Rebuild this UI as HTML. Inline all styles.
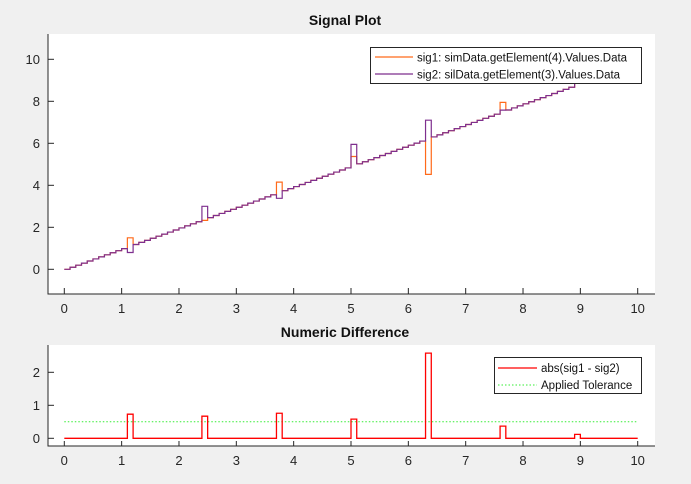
<!DOCTYPE html>
<html><head><meta charset="utf-8"><style>
html,body{margin:0;padding:0;background:#f0f0f0;}
svg{display:block;font-family:"Liberation Sans",Arial,sans-serif;}
</style></head><body>
<svg id="s" width="691" height="484" xmlns="http://www.w3.org/2000/svg">
<rect x="0" y="0" width="691" height="484" fill="#f0f0f0"/>
<rect x="48" y="34" width="607" height="260" fill="#fff"/>
<rect x="48" y="345" width="607" height="101" fill="#fff"/>
<text x="345" y="25" text-anchor="middle" font-size="14" font-weight="bold" fill="#111">Signal Plot</text>
<text x="345" y="337" text-anchor="middle" font-size="14" font-weight="bold" fill="#111">Numeric Difference</text>
<g id="g"></g>
</svg>
<script>
var g=document.getElementById('g'),NS='http://www.w3.org/2000/svg';
function el(t,a,txt){var e=document.createElementNS(NS,t);for(var k in a)e.setAttribute(k,a[k]);if(txt!=null)e.textContent=txt;g.appendChild(e);return e;}
var X=function(t){return 64.3+t*57.34;};
var Y1=function(v){return 269.3-v*21;};
var Y2=function(v){return 438.3-v*33;};
var N=100,base=[];for(var i=0;i<=N;i++)base.push(i*0.1*0.985);
var s1=base.slice(),s2=base.slice();
var d=[[11,1.5,0.8],[24,2.33,3.0],[37,4.15,3.38],[50,5.37,5.95],[63,4.52,7.1],[76,7.95,7.58],[89,8.85,8.97]];
d.forEach(function(a){s1[a[0]]=a[1];s2[a[0]]=a[2];});
function step(arr,Y){var p='M'+X(0)+','+Y(arr[0]);for(var i=1;i<=N;i++){p+='H'+X(i*0.1)+'V'+Y(arr[i]);}return p;}
el('path',{d:step(s1,Y1),fill:'none',stroke:'#ff6a1a','stroke-width':1.2});
el('path',{d:step(s2,Y1),fill:'none',stroke:'#7e2f8e','stroke-width':1.2});
var df=[];for(i=0;i<=N;i++)df.push(Math.abs(s1[i]-s2[i]));
df[11]=0.73;df[24]=0.67;df[37]=0.76;df[50]=0.58;df[63]=2.58;df[76]=0.37;df[89]=0.12;
el('line',{x1:X(0),x2:X(10),y1:Y2(0.5),y2:Y2(0.5),stroke:'#33ee33','stroke-width':1,'stroke-dasharray':'1.5,2'});
el('path',{d:step(df,Y2),fill:'none',stroke:'#ff0000','stroke-width':1.3});
// axes
el('path',{d:'M48,34V294H655',fill:'none',stroke:'#262626','stroke-width':1});
el('path',{d:'M48,345V446H655',fill:'none',stroke:'#262626','stroke-width':1});
for(i=0;i<=10;i++){var x=X(i);
 el('line',{x1:x,x2:x,y1:294,y2:288,stroke:'#262626'});
 el('text',{x:x,y:313,'text-anchor':'middle','font-size':13,fill:'#262626'},i);
 el('line',{x1:x,x2:x,y1:446,y2:441,stroke:'#262626'});
 el('text',{x:x,y:465,'text-anchor':'middle','font-size':13,fill:'#262626'},i);}
for(i=0;i<=10;i+=2){var y=Y1(i);
 el('line',{x1:48,x2:54,y1:y,y2:y,stroke:'#262626'});
 el('text',{x:40,y:y+4.5,'text-anchor':'end','font-size':13,fill:'#262626'},i);}
for(i=0;i<=2;i++){var y=Y2(i);
 el('line',{x1:48,x2:54,y1:y,y2:y,stroke:'#262626'});
 el('text',{x:40,y:y+4.5,'text-anchor':'end','font-size':13,fill:'#262626'},i);}
// legends
el('rect',{x:370.5,y:47.5,width:271,height:36,fill:'#fff',stroke:'#262626'});
el('line',{x1:375,x2:413,y1:57,y2:57,stroke:'#ff6a1a','stroke-width':1.2});
el('line',{x1:375,x2:413,y1:74,y2:74,stroke:'#7e2f8e','stroke-width':1.2});
el('text',{x:417,y:61.5,'font-size':11.5,fill:'#111'},'sig1: simData.getElement(4).Values.Data');
el('text',{x:417,y:78.5,'font-size':11.5,fill:'#111'},'sig2: silData.getElement(3).Values.Data');
el('rect',{x:494.5,y:357.5,width:147,height:36,fill:'#fff',stroke:'#262626'});
el('line',{x1:498,x2:537,y1:368,y2:368,stroke:'#ff0000','stroke-width':1.3});
el('line',{x1:498,x2:537,y1:385,y2:385,stroke:'#33ee33','stroke-dasharray':'1.5,2'});
el('text',{x:541,y:372,'font-size':11.5,fill:'#111'},'abs(sig1 - sig2)');
el('text',{x:541,y:389,'font-size':11.5,fill:'#111'},'Applied Tolerance');
</script>
</body></html>
